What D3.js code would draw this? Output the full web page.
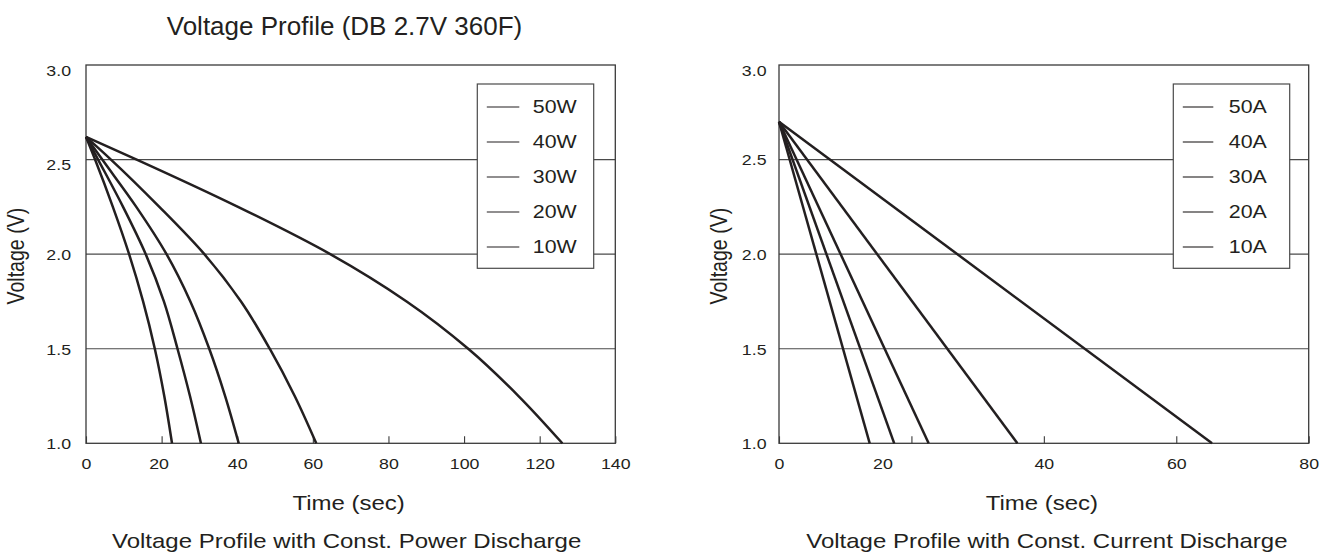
<!DOCTYPE html>
<html>
<head>
<meta charset="utf-8">
<script src="https://cdn.jsdelivr.net/npm/d3@7/dist/d3.min.js"></script>
<style>
  html, body { margin: 0; padding: 0; background: #fff; }
  svg { display: block; }
  text { font-family: "Liberation Sans", Arial, Helvetica, sans-serif; fill: #231f20; }
</style>
</head>
<body>
<div id="chart"></div>
<script>
// ---------- data ----------
const powerLabels = ["50W", "40W", "30W", "20W", "10W"];
const powerVolts  = [2.62, 2.5, 2.25, 2.0, 1.75, 1.5, 1.25, 1.0];
const power50 = [0, 2.4, 7.1, 11.4, 15.1, 18.2, 20.7, 22.75];
const power40 = [0, 3.2, 9.8, 15.8, 20.6, 24.2, 27.5, 30.4];
const power30 = [0, 4.3, 13.3, 21.3, 27.6, 32.6, 36.8, 40.4];
const power20 = [0, 6.6, 19.4, 31.3, 41.0, 48.6, 55.2, 60.9];
const power10 = [0, 13.4, 40.2, 64.6, 84.8, 101.1, 114.4, 126.0];
const powerTimes = [power50, power40, power30, power20, power10];

const currentLabels = ["50A", "40A", "30A", "20A", "10A"];
const currentStartV = [2.70, 2.70, 2.70, 2.70, 2.70];
const currentEndV   = [1.0, 1.0, 1.0, 1.0, 1.0];
const currentEndT   = [13.7, 17.4, 22.6, 36.0, 65.4];

const powerXTicks   = [0, 20, 40, 60, 80, 100, 120, 140];
const currentXTicks = [0, 20, 40, 60, 80];
const yTicks = [1.0, 1.5, 2.0, 2.5, 3.0];
const gridVolts = [1.5, 2.0, 2.5];

const titleText = "Voltage Profile (DB 2.7V 360F)";
const xLabelText = "Time (sec)";
const yLabelText = "Voltage (V)";
const powerSubtitle = "Voltage Profile with Const. Power Discharge";
const currentSubtitle = "Voltage Profile with Const. Current Discharge";

// ---------- drawing ----------
const W = 1330, H = 555;
const S = 1.2; // horizontal text stretch of the original print
const ink = "#231f20";

const svg = d3.select("#chart").append("svg")
  .attr("width", W).attr("height", H);

function stext(parent, x, y, str, size, anchor, rotate, stretch) {
  const s = stretch === undefined ? S : stretch;
  return parent.append("text")
    .attr("transform", `translate(${x},${y}) scale(${s},1)` + (rotate ? " rotate(-90)" : ""))
    .attr("text-anchor", anchor)
    .attr("font-size", size)
    .text(str);
}

function drawChart(cfg) {
  const x = d3.scaleLinear().domain(cfg.xDomain).range([cfg.left, cfg.right]);
  const y = d3.scaleLinear().domain([1.0, 3.0]).range([cfg.bottom, cfg.top]);
  const g = svg.append("g");

  // gridlines
  g.selectAll("line.grid").data(gridVolts).join("line")
    .attr("class", "grid")
    .attr("x1", cfg.left).attr("x2", cfg.right)
    .attr("y1", d => y(d)).attr("y2", d => y(d))
    .attr("stroke", "#4a4a4a").attr("stroke-width", 1.2);

  // frame
  g.append("rect")
    .attr("x", cfg.left).attr("y", cfg.top)
    .attr("width", cfg.right - cfg.left).attr("height", cfg.bottom - cfg.top)
    .attr("fill", "none").attr("stroke", "#3a3a3a").attr("stroke-width", 1.3);

  // x axis (inward ticks)
  const xa = g.append("g").attr("transform", `translate(0,${cfg.bottom})`)
    .call(d3.axisBottom(x).tickValues(cfg.xTicks).tickSizeInner(-7).tickSizeOuter(0).tickFormat(d3.format("d")));
  xa.select(".domain").remove();
  xa.selectAll(".tick line").attr("stroke", "#3a3a3a").attr("stroke-width", 1.1);
  xa.selectAll(".tick text")
    .attr("y", 26).attr("dy", null)
    .attr("font-size", 14.8)
    .attr("font-family", "Liberation Sans, Arial, sans-serif")
    .attr("fill", ink)
    .attr("transform", `scale(${S},1)`)
    .attr("x", d => (cfg.xLabelShift[d] || 0) / S);

  // y axis labels
  const ya = g.append("g").attr("transform", `translate(${cfg.left},0)`)
    .call(d3.axisLeft(y).tickValues(yTicks).tickSize(0).tickFormat(d3.format(".1f")));
  ya.select(".domain").remove();
  ya.selectAll(".tick text")
    .attr("x", -cfg.yGap / S)
    .attr("dy", "0.36em")
    .attr("y", d => cfg.yLabelShift[d.toFixed(1)] || 0)
    .attr("font-size", 14.8)
    .attr("font-family", "Liberation Sans, Arial, sans-serif")
    .attr("fill", ink)
    .attr("transform", `scale(${S},1)`);

  // series
  const line = d3.line().x(d => x(d[0])).y(d => y(d[1])).curve(cfg.curve);
  g.selectAll("path.series").data(cfg.series).join("path")
    .attr("class", "series")
    .attr("d", d => line(d.points))
    .attr("fill", "none").attr("stroke", ink)
    .attr("stroke-width", 2.5).attr("stroke-linejoin", "round");

  // legend
  const L = cfg.legend;
  g.append("rect").attr("x", L.x).attr("y", L.y).attr("width", L.w).attr("height", L.h)
    .attr("fill", "#fff").attr("stroke", "#4a4a4a").attr("stroke-width", 1.2);
  cfg.series.forEach((s, i) => {
    const cy = L.y + L.first + i * L.step;
    g.append("line").attr("x1", L.x + L.lx1).attr("x2", L.x + L.lx2)
      .attr("y1", cy).attr("y2", cy).attr("stroke", ink).attr("stroke-width", 1.1);
    stext(g, L.x + L.tx, cy + 6.3, s.label, 17.8, "start");
  });

  // labels
  const cx = (cfg.left + cfg.right) / 2;
  stext(g, cx - 2, 510, xLabelText, 20, "middle");
  stext(g, cx + cfg.subShift, 548, cfg.subtitle, 20, "middle");
  stext(g, cfg.yLabelX, (cfg.top + cfg.bottom) / 2 + 2, yLabelText, 19.6, "middle", true);
}

const powerSeries = powerLabels.map((lab, i) => ({
  label: lab,
  points: powerTimes[i].map((t, j) => [t, powerVolts[j]])
}));
const currentSeries = currentLabels.map((lab, i) => ({
  label: lab,
  points: [[0, currentStartV[i]], [currentEndT[i], currentEndV[i]]]
}));

drawChart({
  left: 86, right: 615.3, top: 65, bottom: 443.3,
  xDomain: [0, 140], xTicks: powerXTicks,
  xLabelShift: {20: -3},
  yGap: 15, yLabelShift: {"3.0": 5, "2.5": 5},
  yLabelX: 24,
  curve: d3.curveMonotoneY,
  series: powerSeries,
  legend: {x: 477.3, y: 84, w: 116.4, h: 184.3, first: 23, step: 35, lx1: 9.5, lx2: 42, tx: 55.5},
  subtitle: powerSubtitle, subShift: -4
});

drawChart({
  left: 779, right: 1308.7, top: 65, bottom: 443.3,
  xDomain: [0, 80], xTicks: currentXTicks,
  xLabelShift: {20: -29},
  yGap: 12.5, yLabelShift: {"3.0": 5},
  yLabelX: 727,
  curve: d3.curveLinear,
  series: currentSeries,
  legend: {x: 1173.3, y: 84, w: 116.4, h: 184.3, first: 23, step: 35, lx1: 9.5, lx2: 40, tx: 55.5},
  subtitle: currentSubtitle, subShift: 3
});

// main title
stext(svg, 344.5, 34.5, titleText, 26, "middle", false, 1);
</script>
</body>
</html>
